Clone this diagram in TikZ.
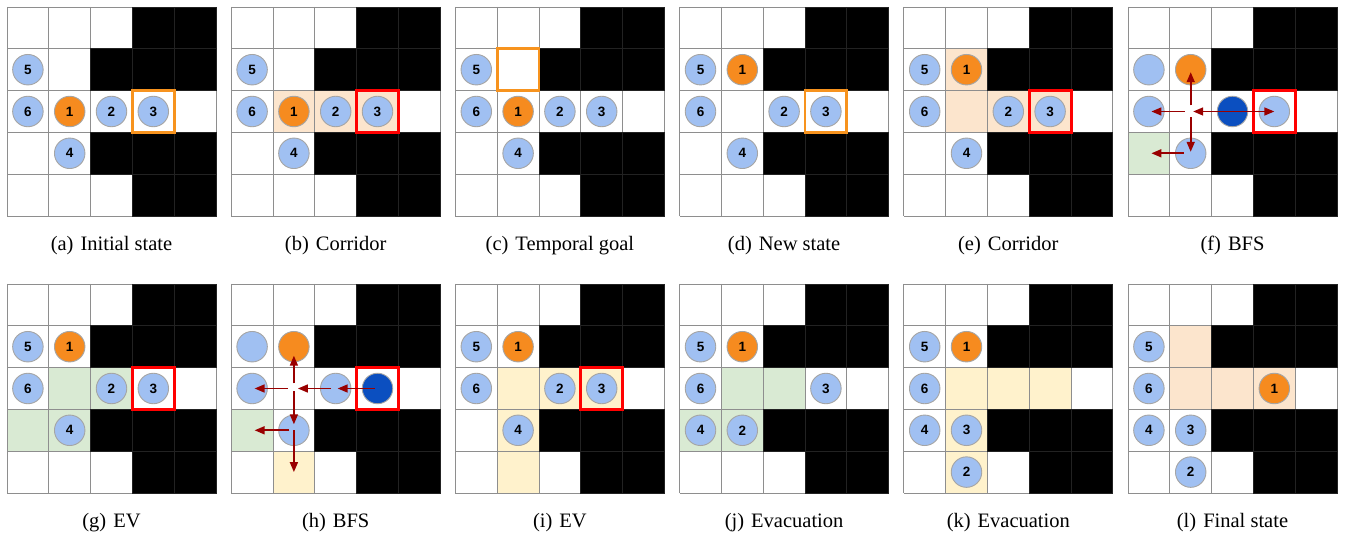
\documentclass[tikz,border=0pt]{standalone}
\usepackage{fontspec}
\setmainfont{Liberation Serif}
\newfontfamily\numfont{Liberation Sans}
\usetikzlibrary{arrows.meta}

\definecolor{agentblue}{HTML}{A0C0F2}
\definecolor{agentorange}{HTML}{F68B1F}
\definecolor{agentdark}{HTML}{0B4FC0}
\definecolor{peach}{HTML}{FCE5CD}
\definecolor{mint}{HTML}{D9EAD3}
\definecolor{cream}{HTML}{FFF2CC}
\definecolor{goalorange}{HTML}{F7931E}
\definecolor{goalred}{HTML}{FF0000}
\definecolor{arrowred}{HTML}{990000}
\definecolor{linegray}{HTML}{8E8E8E}
\definecolor{wallline}{HTML}{222222}

\def\cs{41.8}

\tikzset{
  gridline/.style={draw=linegray, line width=0.9pt},
  wall/.style={fill=black, draw=wallline, line width=0.8pt},
  agent/.style={circle, minimum size=30.5pt, inner sep=0pt, fill=agentblue,
    draw=linegray!80, line width=0.9pt,
    font=\numfont\bfseries\fontsize{13.5}{13.5}\selectfont},
  leader/.style={agent, fill=agentorange},
  active/.style={agent, fill=agentdark},
  tempgoal/.style={draw=goalorange, line width=2.8pt},
  goalframe/.style={draw=goalred, line width=3pt},
  bfs/.style={draw=arrowred, line width=1.6pt, shorten >=2.5pt,
    -{Triangle[length=10pt, width=8pt]}},
  caption/.style={anchor=base, inner sep=0pt,
    font=\fontsize{20.5}{24}\selectfont},
}

% tinted cell: colour, column, row
\newcommand{\tintcell}[3]{\fill[#1] ({#2*\cs},{#3*\cs}) rectangle ++(\cs,\cs);}
% frame around a cell: style, column, row
\newcommand{\frameat}[3]{\draw[#1] ({#2*\cs},{#3*\cs}) rectangle ++(\cs,\cs);}
% 5x5 map with walls, plus named cell centres prefix-col-row
\newcommand{\gridbase}[1]{%
  \foreach \k in {0,...,5} {
    \draw[gridline] ({\k*\cs},0) -- ({\k*\cs},{5*\cs});
    \draw[gridline] (0,{\k*\cs}) -- ({5*\cs},{\k*\cs});
  }
  \foreach \i/\j in {3/0,4/0,2/1,3/1,4/1,2/3,3/3,4/3,3/4,4/4}
    \filldraw[wall] ({\i*\cs},{\j*\cs}) rectangle ++(\cs,\cs);
  \foreach \i in {0,...,4} \foreach \j in {0,...,4}
    \coordinate (#1-\i-\j) at ({(\i+0.5)*\cs},{(\j+0.5)*\cs});
}

\begin{document}
\begin{tikzpicture}[x=1pt, y=-1pt]
\useasboundingbox (0,0) rectangle (1345,534);
\fill[white] (0,0) rectangle (1345,534);

% ---------- (a) Initial state ----------
\begin{scope}[shift={(7,7)}]
  \gridbase{a}
  \frameat{tempgoal}{3}{2}
  \node[agent] (a5) at (a-0-1) {5};
  \node[agent] (a6) at (a-0-2) {6};
  \node[leader] (a1) at (a-1-2) {1};
  \node[agent] (a2) at (a-2-2) {2};
  \node[agent] (a3) at (a-3-2) {3};
  \node[agent] (a4) at (a-1-3) {4};
\end{scope}
\node[caption] (cap-a) at (111.5,250.5) {(a)\hspace{7pt}Initial state};

% ---------- (b) Corridor ----------
\begin{scope}[shift={(231.2,7)}]
  \tintcell{peach}{1}{2}\tintcell{peach}{2}{2}\tintcell{peach}{3}{2}
  \gridbase{b}
  \frameat{goalframe}{3}{2}
  \node[agent] (b5) at (b-0-1) {5};
  \node[agent] (b6) at (b-0-2) {6};
  \node[leader] (b1) at (b-1-2) {1};
  \node[agent] (b2) at (b-2-2) {2};
  \node[agent] (b3) at (b-3-2) {3};
  \node[agent] (b4) at (b-1-3) {4};
\end{scope}
\node[caption] (cap-b) at (335.7,250.5) {(b)\hspace{7pt}Corridor};

% ---------- (c) Temporal goal ----------
\begin{scope}[shift={(455.4,7)}]
  \gridbase{c}
  \frameat{tempgoal}{1}{1}
  \node[agent] (c5) at (c-0-1) {5};
  \node[agent] (c6) at (c-0-2) {6};
  \node[leader] (c1) at (c-1-2) {1};
  \node[agent] (c2) at (c-2-2) {2};
  \node[agent] (c3) at (c-3-2) {3};
  \node[agent] (c4) at (c-1-3) {4};
\end{scope}
\node[caption] (cap-c) at (559.9,250.5) {(c)\hspace{7pt}Temporal goal};

% ---------- (d) New state ----------
\begin{scope}[shift={(679.6,7)}]
  \gridbase{d}
  \frameat{tempgoal}{3}{2}
  \node[agent] (d5) at (d-0-1) {5};
  \node[leader] (d1) at (d-1-1) {1};
  \node[agent] (d6) at (d-0-2) {6};
  \node[agent] (d2) at (d-2-2) {2};
  \node[agent] (d3) at (d-3-2) {3};
  \node[agent] (d4) at (d-1-3) {4};
\end{scope}
\node[caption] (cap-d) at (784.1,250.5) {(d)\hspace{7pt}New state};

% ---------- (e) Corridor ----------
\begin{scope}[shift={(903.8,7)}]
  \tintcell{peach}{1}{1}\tintcell{peach}{1}{2}\tintcell{peach}{2}{2}\tintcell{peach}{3}{2}
  \gridbase{e}
  \frameat{goalframe}{3}{2}
  \node[agent] (e5) at (e-0-1) {5};
  \node[leader] (e1) at (e-1-1) {1};
  \node[agent] (e6) at (e-0-2) {6};
  \node[agent] (e2) at (e-2-2) {2};
  \node[agent] (e3) at (e-3-2) {3};
  \node[agent] (e4) at (e-1-3) {4};
\end{scope}
\node[caption] (cap-e) at (1008.3,250.5) {(e)\hspace{7pt}Corridor};

% ---------- (f) BFS ----------
\begin{scope}[shift={(1128,7)}]
  \tintcell{mint}{0}{3}
  \gridbase{f}
  \frameat{goalframe}{3}{2}
  \node[agent] (f-n01) at (f-0-1) {};
  \node[leader] (f-n11) at (f-1-1) {};
  \node[agent] (f-n02) at (f-0-2) {};
  \node[active] (f-n22) at (f-2-2) {};
  \node[agent] (f-n32) at (f-3-2) {};
  \node[agent] (f-n13) at (f-1-3) {};
  \draw[bfs, shorten >=0pt] (f-2-2) -- (f-3-2);
  \draw[bfs] (f-2-2) -- (f-1-2);
  \draw[bfs, shorten <=6pt] (f-1-2) -- (f-0-2);
  \draw[bfs, shorten <=6pt] (f-1-2) -- (f-1-1);
  \draw[bfs, shorten <=6pt, shorten >=1.5pt] (f-1-2) -- (f-1-3);
  \draw[bfs, shorten <=7pt] (f-1-3) -- (f-0-3);
\end{scope}
\node[caption] (cap-f) at (1232.5,250.5) {(f)\hspace{7pt}BFS};

% ---------- (g) EV ----------
\begin{scope}[shift={(7,284)}]
  \tintcell{mint}{1}{2}\tintcell{mint}{2}{2}\tintcell{mint}{0}{3}\tintcell{mint}{1}{3}
  \gridbase{g}
  \frameat{goalframe}{3}{2}
  \node[agent] (g5) at (g-0-1) {5};
  \node[leader] (g1) at (g-1-1) {1};
  \node[agent] (g6) at (g-0-2) {6};
  \node[agent] (g2) at (g-2-2) {2};
  \node[agent] (g3) at (g-3-2) {3};
  \node[agent] (g4) at (g-1-3) {4};
\end{scope}
\node[caption] (cap-g) at (111.5,527.5) {(g)\hspace{7pt}EV};

% ---------- (h) BFS ----------
\begin{scope}[shift={(231.2,284)}]
  \tintcell{mint}{0}{3}\tintcell{cream}{1}{4}
  \gridbase{h}
  \frameat{goalframe}{3}{2}
  \node[agent] (h-n01) at (h-0-1) {};
  \node[leader] (h-n11) at (h-1-1) {};
  \node[agent] (h-n02) at (h-0-2) {};
  \node[agent] (h-n22) at (h-2-2) {};
  \node[active] (h-n32) at (h-3-2) {};
  \node[agent] (h-n13) at (h-1-3) {};
  \draw[bfs, shorten <=3pt, shorten >=2pt] (h-3-2) -- (h-2-2);
  \draw[bfs, shorten <=4.5pt, shorten >=4pt] (h-2-2) -- (h-1-2);
  \draw[bfs, shorten <=6pt] (h-1-2) -- (h-0-2);
  \draw[bfs, shorten <=5pt, shorten >=9pt] (h-1-2) -- (h-1-1);
  \draw[bfs, shorten <=3pt, shorten >=6pt] (h-1-2) -- (h-1-3);
  \draw[bfs, shorten <=4.5pt] (h-1-3) -- (h-0-3);
  \draw[bfs, shorten <=0pt, shorten >=0pt] (h-1-3) -- (h-1-4);
\end{scope}
\node[caption] (cap-h) at (335.7,527.5) {(h)\hspace{7pt}BFS};

% ---------- (i) EV ----------
\begin{scope}[shift={(455.4,284)}]
  \tintcell{cream}{1}{2}\tintcell{cream}{2}{2}\tintcell{cream}{3}{2}
  \tintcell{cream}{1}{3}\tintcell{cream}{1}{4}
  \gridbase{i}
  \frameat{goalframe}{3}{2}
  \node[agent] (i5) at (i-0-1) {5};
  \node[leader] (i1) at (i-1-1) {1};
  \node[agent] (i6) at (i-0-2) {6};
  \node[agent] (i2) at (i-2-2) {2};
  \node[agent] (i3) at (i-3-2) {3};
  \node[agent] (i4) at (i-1-3) {4};
\end{scope}
\node[caption] (cap-i) at (559.9,527.5) {(i)\hspace{7pt}EV};

% ---------- (j) Evacuation ----------
\begin{scope}[shift={(679.6,284)}]
  \tintcell{mint}{1}{2}\tintcell{mint}{2}{2}\tintcell{mint}{0}{3}\tintcell{mint}{1}{3}
  \gridbase{j}
  \node[agent] (j5) at (j-0-1) {5};
  \node[leader] (j1) at (j-1-1) {1};
  \node[agent] (j6) at (j-0-2) {6};
  \node[agent] (j3) at (j-3-2) {3};
  \node[agent] (j4) at (j-0-3) {4};
  \node[agent] (j2) at (j-1-3) {2};
\end{scope}
\node[caption] (cap-j) at (784.1,527.5) {(j)\hspace{7pt}Evacuation};

% ---------- (k) Evacuation ----------
\begin{scope}[shift={(903.8,284)}]
  \tintcell{cream}{1}{2}\tintcell{cream}{2}{2}\tintcell{cream}{3}{2}
  \tintcell{cream}{1}{3}\tintcell{cream}{1}{4}
  \gridbase{k}
  \node[agent] (k5) at (k-0-1) {5};
  \node[leader] (k1) at (k-1-1) {1};
  \node[agent] (k6) at (k-0-2) {6};
  \node[agent] (k4) at (k-0-3) {4};
  \node[agent] (k3) at (k-1-3) {3};
  \node[agent] (k2) at (k-1-4) {2};
\end{scope}
\node[caption] (cap-k) at (1008.3,527.5) {(k)\hspace{7pt}Evacuation};

% ---------- (l) Final state ----------
\begin{scope}[shift={(1128,284)}]
  \tintcell{peach}{1}{1}\tintcell{peach}{1}{2}\tintcell{peach}{2}{2}\tintcell{peach}{3}{2}
  \gridbase{l}
  \node[agent] (l5) at (l-0-1) {5};
  \node[agent] (l6) at (l-0-2) {6};
  \node[leader] (l1) at (l-3-2) {1};
  \node[agent] (l4) at (l-0-3) {4};
  \node[agent] (l3) at (l-1-3) {3};
  \node[agent] (l2) at (l-1-4) {2};
\end{scope}
\node[caption] (cap-l) at (1232.5,527.5) {(l)\hspace{7pt}Final state};

\end{tikzpicture}
\end{document}
